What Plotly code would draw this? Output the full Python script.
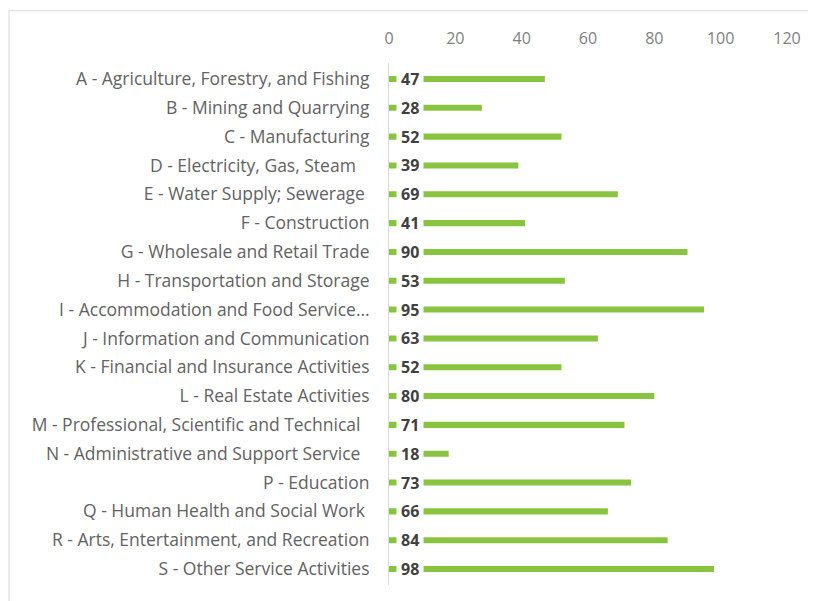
import plotly.graph_objects as go

categories = [
    "A - Agriculture, Forestry, and Fishing",
    "B - Mining and Quarrying",
    "C - Manufacturing",
    "D - Electricity, Gas, Steam\u00a0\u00a0\u00a0",
    "E - Water Supply; Sewerage\u00a0",
    "F - Construction",
    "G - Wholesale and Retail Trade",
    "H - Transportation and Storage",
    "I - Accommodation and Food Service\u2026",
    "J - Information and Communication",
    "K - Financial and Insurance Activities",
    "L - Real Estate Activities",
    "M - Professional, Scientific and Technical\u00a0\u00a0",
    "N - Administrative and Support Service\u00a0\u00a0",
    "P - Education",
    "Q - Human Health and Social Work\u00a0",
    "R - Arts, Entertainment, and Recreation",
    "S - Other Service Activities",
]
values = [47, 28, 52, 39, 69, 41, 90, 53, 95, 63, 52, 80, 71, 18, 73, 66, 84, 98]
tick_vals = [0, 20, 40, 60, 80, 100, 120]

fig = go.Figure()
fig.add_trace(go.Bar(
    x=values, y=categories, orientation="h",
    marker=dict(color="#88C440", line=dict(width=0)),
    width=0.21, hoverinfo="x+y",
))

for c, v in zip(categories, values):
    fig.add_annotation(
        x=0, y=c, xref="x", yref="y", text="<b>%d</b>" % v,
        showarrow=False, xanchor="left", xshift=7,
        bgcolor="white", borderpad=4,
        font=dict(family="Open Sans, sans-serif", size=16, color="#404040"),
    )

fig.add_shape(type="rect", xref="paper", yref="paper",
              x0=-0.9548, x1=1.2, y0=-0.2, y1=1.1,
              line=dict(color="#D9D9D9", width=1), fillcolor="rgba(0,0,0,0)",
              layer="below")

fig.update_layout(
    width=816, height=601,
    margin=dict(l=381, r=37, t=55, b=24),
    paper_bgcolor="white", plot_bgcolor="white",
    showlegend=False,
    font=dict(family="Open Sans, sans-serif", color="#595959"),
    xaxis=dict(
        side="top", range=[0, 120], tickvals=tick_vals,
        showgrid=False, zeroline=False, showline=False,
        tickfont=dict(size=16, color="#808080"),
        ticks="outside", ticklen=12, tickcolor="rgba(0,0,0,0)",
        fixedrange=True,
    ),
    yaxis=dict(
        autorange="reversed", showgrid=False, zeroline=False,
        showline=True, linecolor="#D9D9D9", linewidth=1,
        tickfont=dict(size=17.5, color="#626262"),
        ticks="outside", ticklen=15, tickcolor="rgba(0,0,0,0)",
        fixedrange=True,
    ),
)

fig.write_html("out.html")
